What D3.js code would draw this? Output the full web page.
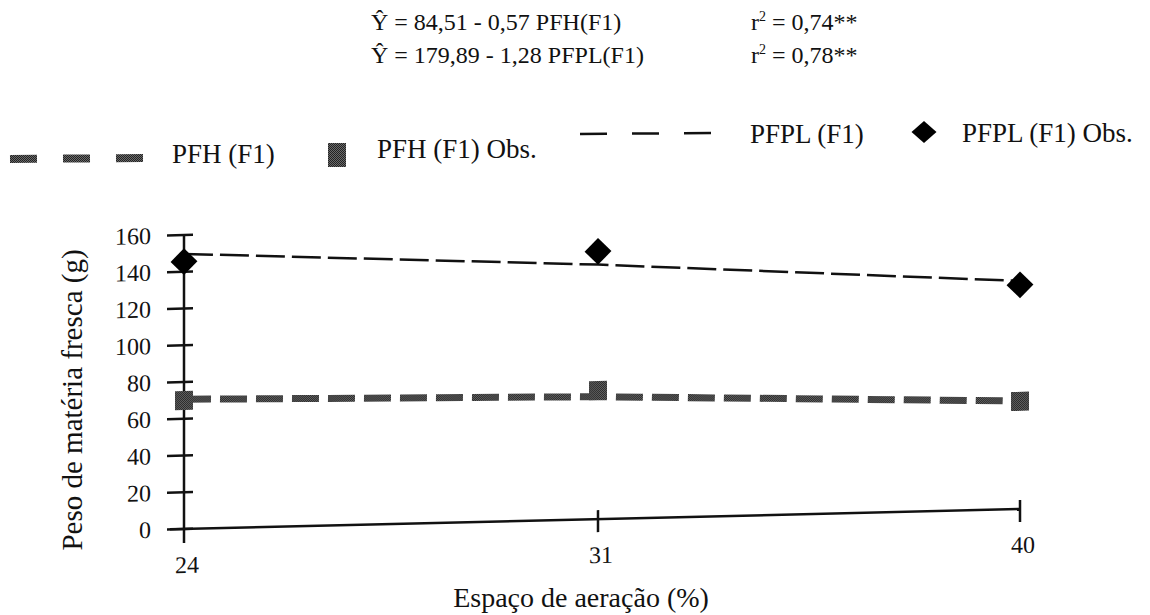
<!DOCTYPE html>
<html>
<head>
<meta charset="utf-8">
<script src="https://cdn.jsdelivr.net/npm/d3@7"></script>
<style>
  body { margin: 0; background: #fff; }
  text { font-family: "Liberation Serif", "DejaVu Serif", serif; fill: #111; }
</style>
</head>
<body>
<div class="svg"></div>
<script>
var svgWidth = 1150;
var svgHeight = 615;

// espaço de aeração (%)
var categories = [24, 31, 40];
// PFH (F1) : fitted line and observed points
var pfhFit = [70.6, 66.6, 58.8];
var pfhObs = [69.9, 70.0, 58.6];
// PFPL (F1) : fitted line and observed points
var pfplFit = [149.7, 138.5, 124.1];
var pfplObs = [145.5, 145.7, 122.0];
var yTicks = [0, 20, 40, 60, 80, 100, 120, 140, 160];

var equations = [
  ["Ŷ = 84,51 - 0,57 PFH(F1)", "0,74**"],
  ["Ŷ = 179,89 - 1,28 PFPL(F1)", "0,78**"]
];

var svg = d3.select(".svg")
  .append("svg")
  .attr("width", svgWidth)
  .attr("height", svgHeight);

var defs = svg.append("defs");
var dither = defs.append("pattern")
  .attr("id", "dither")
  .attr("patternUnits", "userSpaceOnUse")
  .attr("width", 2)
  .attr("height", 2);
dither.append("rect").attr("width", 2).attr("height", 2).attr("fill", "#6a6a6a");
dither.append("rect").attr("width", 1).attr("height", 1).attr("fill", "#222");
dither.append("rect").attr("x", 1).attr("y", 1).attr("width", 1).attr("height", 1).attr("fill", "#222");

var x = d3.scaleLinear()
  .domain(categories)
  .range([184, 598, 1020]);

var y = d3.scaleLinear()
  .domain([0, 160])
  .range([529, 235]);

// the scanned page is slightly tilted
var plot = svg.append("g")
  .attr("transform", "translate(184,0) skewY(-1.37) translate(-184,0)");

// y axis
plot.append("line")
  .attr("x1", x(24)).attr("x2", x(24))
  .attr("y1", y(160)).attr("y2", y(0) + 14)
  .attr("stroke", "#111").attr("stroke-width", 2.5);

plot.append("g").selectAll("line")
  .data(yTicks)
  .enter()
  .append("line")
  .attr("x1", x(24) - 17)
  .attr("x2", x(24) + 9)
  .attr("y1", function(d) { return y(d); })
  .attr("y2", function(d) { return y(d); })
  .attr("stroke", "#111").attr("stroke-width", 2.5);

plot.append("g").selectAll("text")
  .data(yTicks)
  .enter()
  .append("text")
  .text(function(d) { return d; })
  .attr("x", 151)
  .attr("y", function(d) { return y(d); })
  .attr("dy", "0.34em")
  .attr("text-anchor", "end")
  .attr("font-size", 24);

// x axis
plot.append("line")
  .attr("x1", x(24) - 14).attr("x2", x(40))
  .attr("y1", y(0)).attr("y2", y(0))
  .attr("stroke", "#111").attr("stroke-width", 2.5);

plot.append("g").selectAll("line")
  .data(categories.slice(1))
  .enter()
  .append("line")
  .attr("x1", function(d) { return x(d); })
  .attr("x2", function(d) { return x(d); })
  .attr("y1", y(0) - 9)
  .attr("y2", y(0) + 13)
  .attr("stroke", "#111").attr("stroke-width", 2.5);

plot.append("g").selectAll("text")
  .data(categories)
  .enter()
  .append("text")
  .text(function(d) { return d; })
  .attr("x", function(d) { return x(d) + 3; })
  .attr("y", 573)
  .attr("text-anchor", "middle")
  .attr("font-size", 24);

// fitted lines
var line = d3.line()
  .x(function(d, i) { return x(categories[i]); })
  .y(function(d) { return y(d); });

plot.append("path")
  .datum(pfhFit)
  .attr("d", line)
  .attr("fill", "none")
  .attr("stroke", "url(#dither)")
  .attr("stroke-width", 7)
  .attr("stroke-dasharray", "27,9");

plot.append("path")
  .datum(pfplFit)
  .attr("d", line)
  .attr("fill", "none")
  .attr("stroke", "#111")
  .attr("stroke-width", 2.5)
  .attr("stroke-dasharray", "29,7");

// observed points
plot.append("g").selectAll("rect")
  .data(pfhObs)
  .enter()
  .append("rect")
  .attr("x", function(d, i) { return x(categories[i]) - 9; })
  .attr("y", function(d) { return y(d) - 9.5; })
  .attr("width", 18)
  .attr("height", 19)
  .attr("fill", "url(#dither)");

var diamond = d3.symbol().type(d3.symbolSquare).size(19 * 19);

plot.append("g").selectAll("path")
  .data(pfplObs)
  .enter()
  .append("path")
  .attr("d", diamond)
  .attr("transform", function(d, i) {
    return "translate(" + x(categories[i]) + "," + y(d) + ") rotate(45)";
  })
  .attr("fill", "#000");

// axis titles
svg.append("text")
  .text("Espaço de aeração (%)")
  .attr("x", 581)
  .attr("y", 607)
  .attr("text-anchor", "middle")
  .attr("font-size", 28);

svg.append("text")
  .text("Peso de matéria fresca (g)")
  .attr("transform", "translate(72,400) rotate(-90)")
  .attr("dy", "0.34em")
  .attr("text-anchor", "middle")
  .attr("font-size", 29);

// equations
var eq = svg.append("g").selectAll("g")
  .data(equations)
  .enter()
  .append("g")
  .attr("transform", function(d, i) { return "translate(0," + (30 + i * 33) + ")"; });

eq.append("text")
  .text(function(d) { return d[0]; })
  .attr("x", 371)
  .attr("font-size", 24);

var r2 = eq.append("text")
  .attr("x", 751)
  .attr("font-size", 24);
r2.append("tspan").text("r");
r2.append("tspan").text("2").attr("font-size", 14).attr("dy", -9);
r2.append("tspan").text(function(d) { return " = " + d[1]; }).attr("dy", 9);

// legend
var legend = svg.append("g");

legend.append("line")
  .attr("x1", 10).attr("x2", 145)
  .attr("y1", 159).attr("y2", 158)
  .attr("stroke", "url(#dither)")
  .attr("stroke-width", 8)
  .attr("stroke-dasharray", "27,26");

legend.append("text").text("PFH (F1)")
  .attr("x", 172).attr("y", 163).attr("font-size", 27);

legend.append("rect")
  .attr("x", 328).attr("y", 143)
  .attr("width", 18).attr("height", 24)
  .attr("fill", "url(#dither)");

legend.append("text").text("PFH (F1) Obs.")
  .attr("x", 377).attr("y", 158).attr("font-size", 27);

legend.append("line")
  .attr("x1", 580).attr("x2", 712)
  .attr("y1", 134).attr("y2", 133)
  .attr("stroke", "#111")
  .attr("stroke-width", 2.5)
  .attr("stroke-dasharray", "27,25");

legend.append("text").text("PFPL (F1)")
  .attr("x", 750).attr("y", 143).attr("font-size", 27);

legend.append("path")
  .attr("d", "M0,-11L12.5,0L0,11L-12.5,0Z")
  .attr("transform", "translate(924,132)")
  .attr("fill", "#000");

legend.append("text").text("PFPL (F1) Obs.")
  .attr("x", 962).attr("y", 142).attr("font-size", 27);
</script>
</body>
</html>
